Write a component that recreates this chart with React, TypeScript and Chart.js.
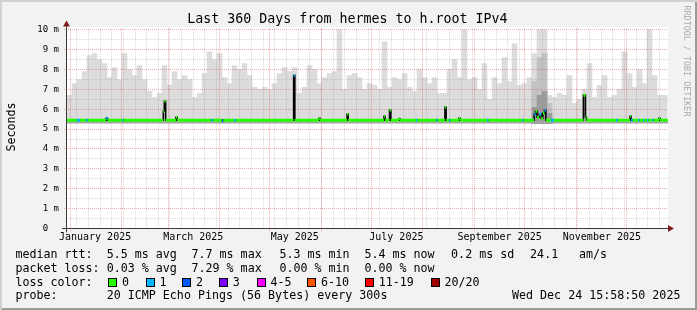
import React, { useEffect, useRef } from 'react';
import { Chart, registerables } from 'chart.js';

Chart.register(...registerables);

const MONO = '"DejaVu Sans Mono", monospace';

// x axis in days since 1 January 2025
const X_MIN = -1.86;
const X_MAX = 359.2;
const Y_MAX = 10.08;

const monthLabels = ['January 2025', 'March 2025', 'May 2025', 'July 2025', 'September 2025', 'November 2025'];
const monthLabelDays = [15, 74, 135, 196, 258, 319.5];
const monthStartDays = [0, 31, 59, 90, 120, 151, 181, 212, 243, 273, 304, 334];
const weekStartDays = [4, 11, 18, 25, 32, 39, 46, 53, 60, 67, 74, 81, 88, 95, 102, 109, 116, 123, 130, 137, 144, 151, 158, 165, 172, 179, 186, 193, 200, 207, 214, 221, 228, 235, 242, 249, 256, 263, 270, 277, 284, 291, 298, 305, 312, 319, 326, 333, 340, 347, 354];

const yTickValues = [0, 1, 2, 3, 4, 5, 6, 7, 8, 9, 10];
const yMinorValues = [0.5, 1.5, 2.5, 3.5, 4.5, 5.5, 6.5, 7.5, 8.5, 9.5];

// smoke (ms): one bin every 3 days
const SMOKE_START = -0.36;
const SMOKE_STEP = 3.004;
const SMOKE_FLOOR = 5.27;
const SMOKE_CORE = 5.34;
const smokeTop = [
  6.7, 7.3, 7.5, 7.9, 8.7, 8.8, 8.5, 8.3, 7.6, 8.1, 7.5, 8.8, 8.0, 7.7, 8.2, 7.5, 6.9, 6.6, 6.8, 8.2, 7.2, 7.9, 7.5, 7.7,
  7.5, 6.6, 6.8, 7.8, 8.9, 8.5, 8.8, 7.6, 7.3, 8.2, 8.0, 8.3, 7.7, 7.1, 7.0, 7.1, 7.0, 7.3, 7.8, 8.1, 7.9, 8.1, 6.8, 7.1,
  8.2, 8.0, 7.3, 7.6, 7.8, 7.9, 10.0, 7.0, 7.7, 7.8, 7.6, 7.0, 7.3, 7.2, 7.0, 9.4, 7.1, 7.6, 7.5, 7.8, 7.1, 6.9, 8.0, 7.6,
  7.3, 7.6, 6.8, 6.8, 8.0, 8.5, 7.6, 10.0, 7.5, 7.6, 7.0, 8.3, 6.5, 7.6, 7.3, 8.6, 7.4, 9.3, 7.2, 7.3, 7.6, 8.8, 10.0, 10.0,
  6.7, 6.6, 6.8, 6.7, 7.7, 6.3, 6.5, 7.0, 8.3, 6.6, 7.2, 7.7, 6.6, 6.7, 7.0, 8.9, 7.8, 7.1, 8.0, 7.3, 10.0, 7.7, 6.7, 6.7,
];
const darkBins = [93, 94, 95, 96];
const smokeMidTop = [7.4, 8.6, 8.8, 6.3];
const smokeDarkTop = [6.1, 6.7, 6.9, 5.8];

// median rtt (ms) as steps, with loss class of each step
const medianStartDay = [
  -1.86, 4.1, 5.9, 9.5, 10.5, 21.6, 22.5, 31.2, 32.0, 56.0,
  56.6, 57.4, 63.6, 64.3, 85.0, 86.0, 91.2, 92.0, 98.5, 99.5,
  134.3, 135.0, 149.5, 150.1, 166.4, 167.1, 188.6, 189.2, 191.9, 192.7,
  197.6, 198.2, 207.8, 208.6, 220.0, 220.8, 225.2, 225.9, 227.7, 228.5,
  233.6, 234.2, 250.5, 251.3, 271.5, 272.3, 278.8, 279.6, 280.6, 281.8,
  283.0, 284.0, 285.0, 285.8, 288.9, 290.7, 308.4, 309.6, 310.2, 328.0,
  329.0, 336.4, 337.0, 338.0, 341.2, 342.0, 344.2, 345.0, 346.6, 347.4,
  349.6, 350.4, 353.8, 354.4,
];
const medianValue = [
  5.45, 5.45, 5.45, 5.45, 5.45, 5.55, 5.45, 5.45, 5.45, 5.9,
  6.4, 5.45, 5.6, 5.45, 5.45, 5.45, 5.42, 5.45, 5.45, 5.45,
  7.7, 5.45, 5.55, 5.45, 5.75, 5.45, 5.65, 5.45, 5.95, 5.45,
  5.52, 5.45, 5.45, 5.45, 5.45, 5.45, 6.1, 5.45, 5.45, 5.45,
  5.55, 5.45, 5.45, 5.45, 5.45, 5.45, 5.75, 5.9, 5.6, 5.75,
  5.55, 5.8, 5.95, 5.45, 5.45, 5.45, 6.7, 5.6, 5.45, 5.45,
  5.45, 5.65, 5.45, 5.45, 5.45, 5.45, 5.45, 5.45, 5.45, 5.45,
  5.45, 5.45, 5.55, 5.45,
];
const medianLoss = [
  0, 1, 0, 1, 0, 1, 0, 1, 0, 0,
  0, 0, 0, 0, 1, 0, 2, 0, 1, 0,
  1, 0, 0, 0, 0, 0, 0, 0, 0, 0,
  0, 0, 1, 0, 1, 0, 0, 0, 1, 0,
  0, 0, 1, 0, 1, 0, 1, 0, 0, 1,
  0, 0, 1, 0, 1, 0, 0, 0, 0, 1,
  0, 0, 1, 0, 1, 0, 1, 0, 1, 0,
  1, 0, 0, 0,
];

const lossColors = ['#26ff00', '#00b8ff', '#0059ff', '#7e00ff', '#ff00ff', '#ff5500', '#ff0000', '#a00000'];
const lossLabels = ['0', '1', '2', '3', '4-5', '6-10', '11-19', '20/20'];
const lossBoxX = [108.3, 145.7, 182.3, 219, 256.7, 307.3, 365, 430.7];

const titleText = 'Last 360 Days from hermes to h.root IPv4';
const legendRows = [
  { label: 'median rtt:', items: [['5.5 ms avg', 106.7], ['7.7 ms max', 191.5], ['5.3 ms min', 279.4], ['5.4 ms now', 364.4], ['0.2 ms sd', 451.1], ['24.1', 530.1], ['am/s', 578.9]] },
  { label: 'packet loss:', items: [['0.03 % avg', 106.7], ['7.29 % max', 191.5], ['0.00 % min', 279.4], ['0.00 % now', 364.4]] },
];
const probeText = '20 ICMP Echo Pings (56 Bytes) every 300s';
const dateText = 'Wed Dec 24 15:58:50 2025';

const MINOR = 'rgba(140,140,140,0.34)';
const MAJOR = 'rgba(220,70,70,0.45)';
const AXIS = '#3a3a3a';
const ARROW = '#7f1f1f';

const GRID_DATASET_INDEX = 3;

function crisp(v: number) {
  return Math.floor(v) + 0.5;
}

const rrdPlugin = {
  id: 'rrdFrame',
  beforeDraw(chart: any) {
    const { ctx, chartArea: a } = chart;
    ctx.save();
    ctx.fillStyle = '#ffffff';
    ctx.fillRect(a.left, a.top - 1, a.right - a.left, a.bottom - a.top + 1);
    ctx.restore();
  },
  beforeDatasetDraw(chart: any, args: any) {
    if (args.index !== GRID_DATASET_INDEX) return;
    const { ctx, chartArea: a } = chart;
    const xs = chart.scales.x;
    const ys = chart.scales.y;
    ctx.save();
    ctx.lineWidth = 1;
    ctx.setLineDash([1, 1]);
    const hline = (v: number, color: string, x0: number) => {
      const yy = crisp(ys.getPixelForValue(v));
      ctx.strokeStyle = color;
      ctx.beginPath();
      ctx.moveTo(x0, yy);
      ctx.lineTo(a.right, yy);
      ctx.stroke();
    };
    const vline = (d: number, color: string, ext: number) => {
      const xx = crisp(xs.getPixelForValue(d));
      if (xx < a.left || xx > a.right) return;
      ctx.strokeStyle = color;
      ctx.beginPath();
      ctx.moveTo(xx, a.top);
      ctx.lineTo(xx, a.bottom + ext);
      ctx.stroke();
    };
    yMinorValues.forEach((v) => hline(v, MINOR, a.left));
    weekStartDays.forEach((d) => vline(d, MINOR, 0));
    yTickValues.filter((v) => v > 0).forEach((v) => hline(v, MAJOR, a.left - 3));
    monthStartDays.forEach((d) => vline(d, MAJOR, 3));
    ctx.restore();
  },
  afterDatasetsDraw(chart: any) {
    const { ctx, chartArea: a } = chart;
    const ax = a.left - 0.5;
    const ay = crisp(a.bottom);
    ctx.save();
    ctx.setLineDash([]);
    ctx.strokeStyle = AXIS;
    ctx.lineWidth = 1;
    ctx.beginPath();
    ctx.moveTo(ax, a.bottom + 4);
    ctx.lineTo(ax, a.top - 2);
    ctx.moveTo(a.left - 5, ay);
    ctx.lineTo(a.right + 1, ay);
    ctx.stroke();
    ctx.fillStyle = ARROW;
    ctx.beginPath();
    ctx.moveTo(ax - 3.5, a.top - 1.8);
    ctx.lineTo(ax + 3.5, a.top - 1.8);
    ctx.lineTo(ax, a.top - 7.8);
    ctx.closePath();
    ctx.fill();
    ctx.beginPath();
    ctx.moveTo(a.right, ay - 3.5);
    ctx.lineTo(a.right, ay + 3.5);
    ctx.lineTo(a.right + 6, ay);
    ctx.closePath();
    ctx.fill();
    ctx.restore();
  },
};

function buildChart(canvas: HTMLCanvasElement) {
  const smokeData = smokeTop.map((t, i) => ({ x: SMOKE_START + i * SMOKE_STEP, y: [SMOKE_FLOOR, t] }));
  const midData = darkBins.map((b, i) => ({ x: SMOKE_START + b * SMOKE_STEP, y: [SMOKE_FLOOR, smokeMidTop[i]] }));
  const darkData = darkBins.map((b, i) => ({ x: SMOKE_START + b * SMOKE_STEP, y: [SMOKE_FLOOR, smokeDarkTop[i]] }));

  const medianEnds = medianStartDay.slice(1).concat([X_MAX]);
  const stepData = medianStartDay.map((d, i) => ({ x: d, y: medianValue[i] }));
  stepData.push({ x: X_MAX, y: medianValue[medianValue.length - 1] });
  const bandData: any[] = [];
  medianStartDay.forEach((d, i) => {
    bandData.push({ x: d, y: medianValue[i] }, { x: medianEnds[i], y: medianValue[i] }, { x: medianEnds[i], y: null });
  });

  return new Chart(canvas, {
    type: 'bar',
    data: {
      datasets: [
        { type: 'bar', label: 'smoke', data: smokeData as any, backgroundColor: '#dcdcdc', borderWidth: 0, barPercentage: 1, categoryPercentage: 1, grouped: false, order: 10 } as any,
        { type: 'bar', label: 'smoke mid', data: midData as any, backgroundColor: '#c2c2c2', borderWidth: 0, barPercentage: 1, categoryPercentage: 1, grouped: false, order: 9 } as any,
        { type: 'bar', label: 'smoke dark', data: darkData as any, backgroundColor: '#9c9c9c', borderWidth: 0, barPercentage: 1, categoryPercentage: 1, grouped: false, order: 8 } as any,
        { type: 'line', label: 'smoke core', data: [{ x: X_MIN, y: SMOKE_CORE }, { x: X_MAX, y: SMOKE_CORE }], borderColor: '#a4a4a4', borderWidth: 2, pointRadius: 0, order: 7 } as any,
        { type: 'line', label: 'median', data: stepData, borderColor: '#000000', borderWidth: 1.6, stepped: true, pointRadius: 0, order: 2 } as any,
        {
          type: 'line', label: 'median loss', data: bandData, borderWidth: 3, borderColor: lossColors[0], borderCapStyle: 'butt', pointRadius: 0, spanGaps: false, order: 1,
          segment: { borderColor: (c: any) => lossColors[medianLoss[Math.floor(c.p0DataIndex / 3)]] },
        } as any,
      ],
    },
    options: {
      animation: false,
      responsive: false,
      devicePixelRatio: 1,
      events: [],
      layout: { padding: { top: 28.3, right: 29, left: 0, bottom: 0 } },
      plugins: { legend: { display: false }, title: { display: false }, tooltip: { enabled: false } },
      scales: {
        x: {
          type: 'linear', min: X_MIN, max: X_MAX, offset: false,
          grid: { display: false, drawTicks: false }, border: { display: false },
          afterBuildTicks: (s: any) => { s.ticks = monthLabelDays.map((v) => ({ value: v })); },
          afterFit: (s: any) => { s.height = 310 - 228.3; },
          ticks: { autoSkip: false, maxRotation: 0, minRotation: 0, padding: 3, color: '#000', font: { family: MONO, size: 10 }, callback: (_v: any, i: number) => monthLabels[i] },
        },
        y: {
          type: 'linear', min: 0, max: Y_MAX,
          grid: { display: false, drawTicks: false }, border: { display: false },
          afterBuildTicks: (s: any) => { s.ticks = yTickValues.map((v) => ({ value: v })); },
          afterFit: (s: any) => { s.width = 67; },
          ticks: { autoSkip: false, padding: 8, color: '#000', font: { family: MONO, size: 9 }, callback: (v: any) => (v === 0 ? '0  ' : `${v} m`) },
        },
      },
    } as any,
    plugins: [rrdPlugin],
  });
}

const LEGEND_TOPS = [246.5, 260.5, 274.5, 288];

function Txt(props: { x: number; y: number; size?: number; lh?: number; color?: string; children: any }) {
  const { x, y, size = 11.66, lh = 14, color = '#000', children } = props;
  return (
    <div style={{ position: 'absolute', left: x, top: y, font: `${size}px ${MONO}`, lineHeight: `${lh}px`, whiteSpace: 'pre', color }}>{children}</div>
  );
}

export default function App() {
  const ref = useRef<HTMLCanvasElement>(null);
  useEffect(() => {
    const chart = buildChart(ref.current as HTMLCanvasElement);
    return () => chart.destroy();
  }, []);

  return (
    <div
      style={{
        position: 'fixed', left: 0, top: 0, width: 697, height: 310, overflow: 'hidden',
        background: '#f2f2f2', boxShadow: 'inset 2px 2px 0 #d0d0d0, inset -2px -2px 0 #9a9a9a',
      }}
    >
      <canvas ref={ref} width={697} height={310} style={{ position: 'absolute', left: 0, top: 0, width: 697, height: 310 }} />
      <Txt x={187.3} y={11} size={13.3} lh={16}>{titleText}</Txt>
      <div
        style={{
          position: 'absolute', left: 11 - 35, top: 126.7 - 7, width: 70, height: 14, textAlign: 'center',
          font: `11.66px ${MONO}`, lineHeight: '14px', transform: 'rotate(-90deg)', whiteSpace: 'pre',
        }}
      >
        Seconds
      </div>
      <div
        style={{
          position: 'absolute', left: 686.9 - 60, top: 60.5 - 5, width: 120, height: 10, textAlign: 'center',
          font: `8.4px ${MONO}`, lineHeight: '10px', transform: 'rotate(90deg)', whiteSpace: 'pre', color: '#ababab',
        }}
      >
        RRDTOOL / TOBI OETIKER
      </div>
      {legendRows.map((row, r) => (
        <React.Fragment key={row.label}>
          <Txt x={15.4} y={LEGEND_TOPS[r]}>{row.label}</Txt>
          {row.items.map(([t, x]) => (
            <Txt key={t as string} x={x as number} y={LEGEND_TOPS[r]}>{t}</Txt>
          ))}
        </React.Fragment>
      ))}
      <Txt x={15.4} y={LEGEND_TOPS[2]}>loss color:</Txt>
      {lossLabels.map((l, i) => (
        <React.Fragment key={l}>
          <div
            style={{
              position: 'absolute', left: lossBoxX[i], top: 278, width: 9, height: 9, boxSizing: 'border-box',
              border: '1px solid #000', background: lossColors[i],
            }}
          />
          <Txt x={lossBoxX[i] + 13.7} y={LEGEND_TOPS[2]}>{l}</Txt>
        </React.Fragment>
      ))}
      <Txt x={15.4} y={LEGEND_TOPS[3]}>probe:</Txt>
      <Txt x={106.7} y={LEGEND_TOPS[3]}>{probeText}</Txt>
      <Txt x={512} y={LEGEND_TOPS[3]}>{dateText}</Txt>
    </div>
  );
}
